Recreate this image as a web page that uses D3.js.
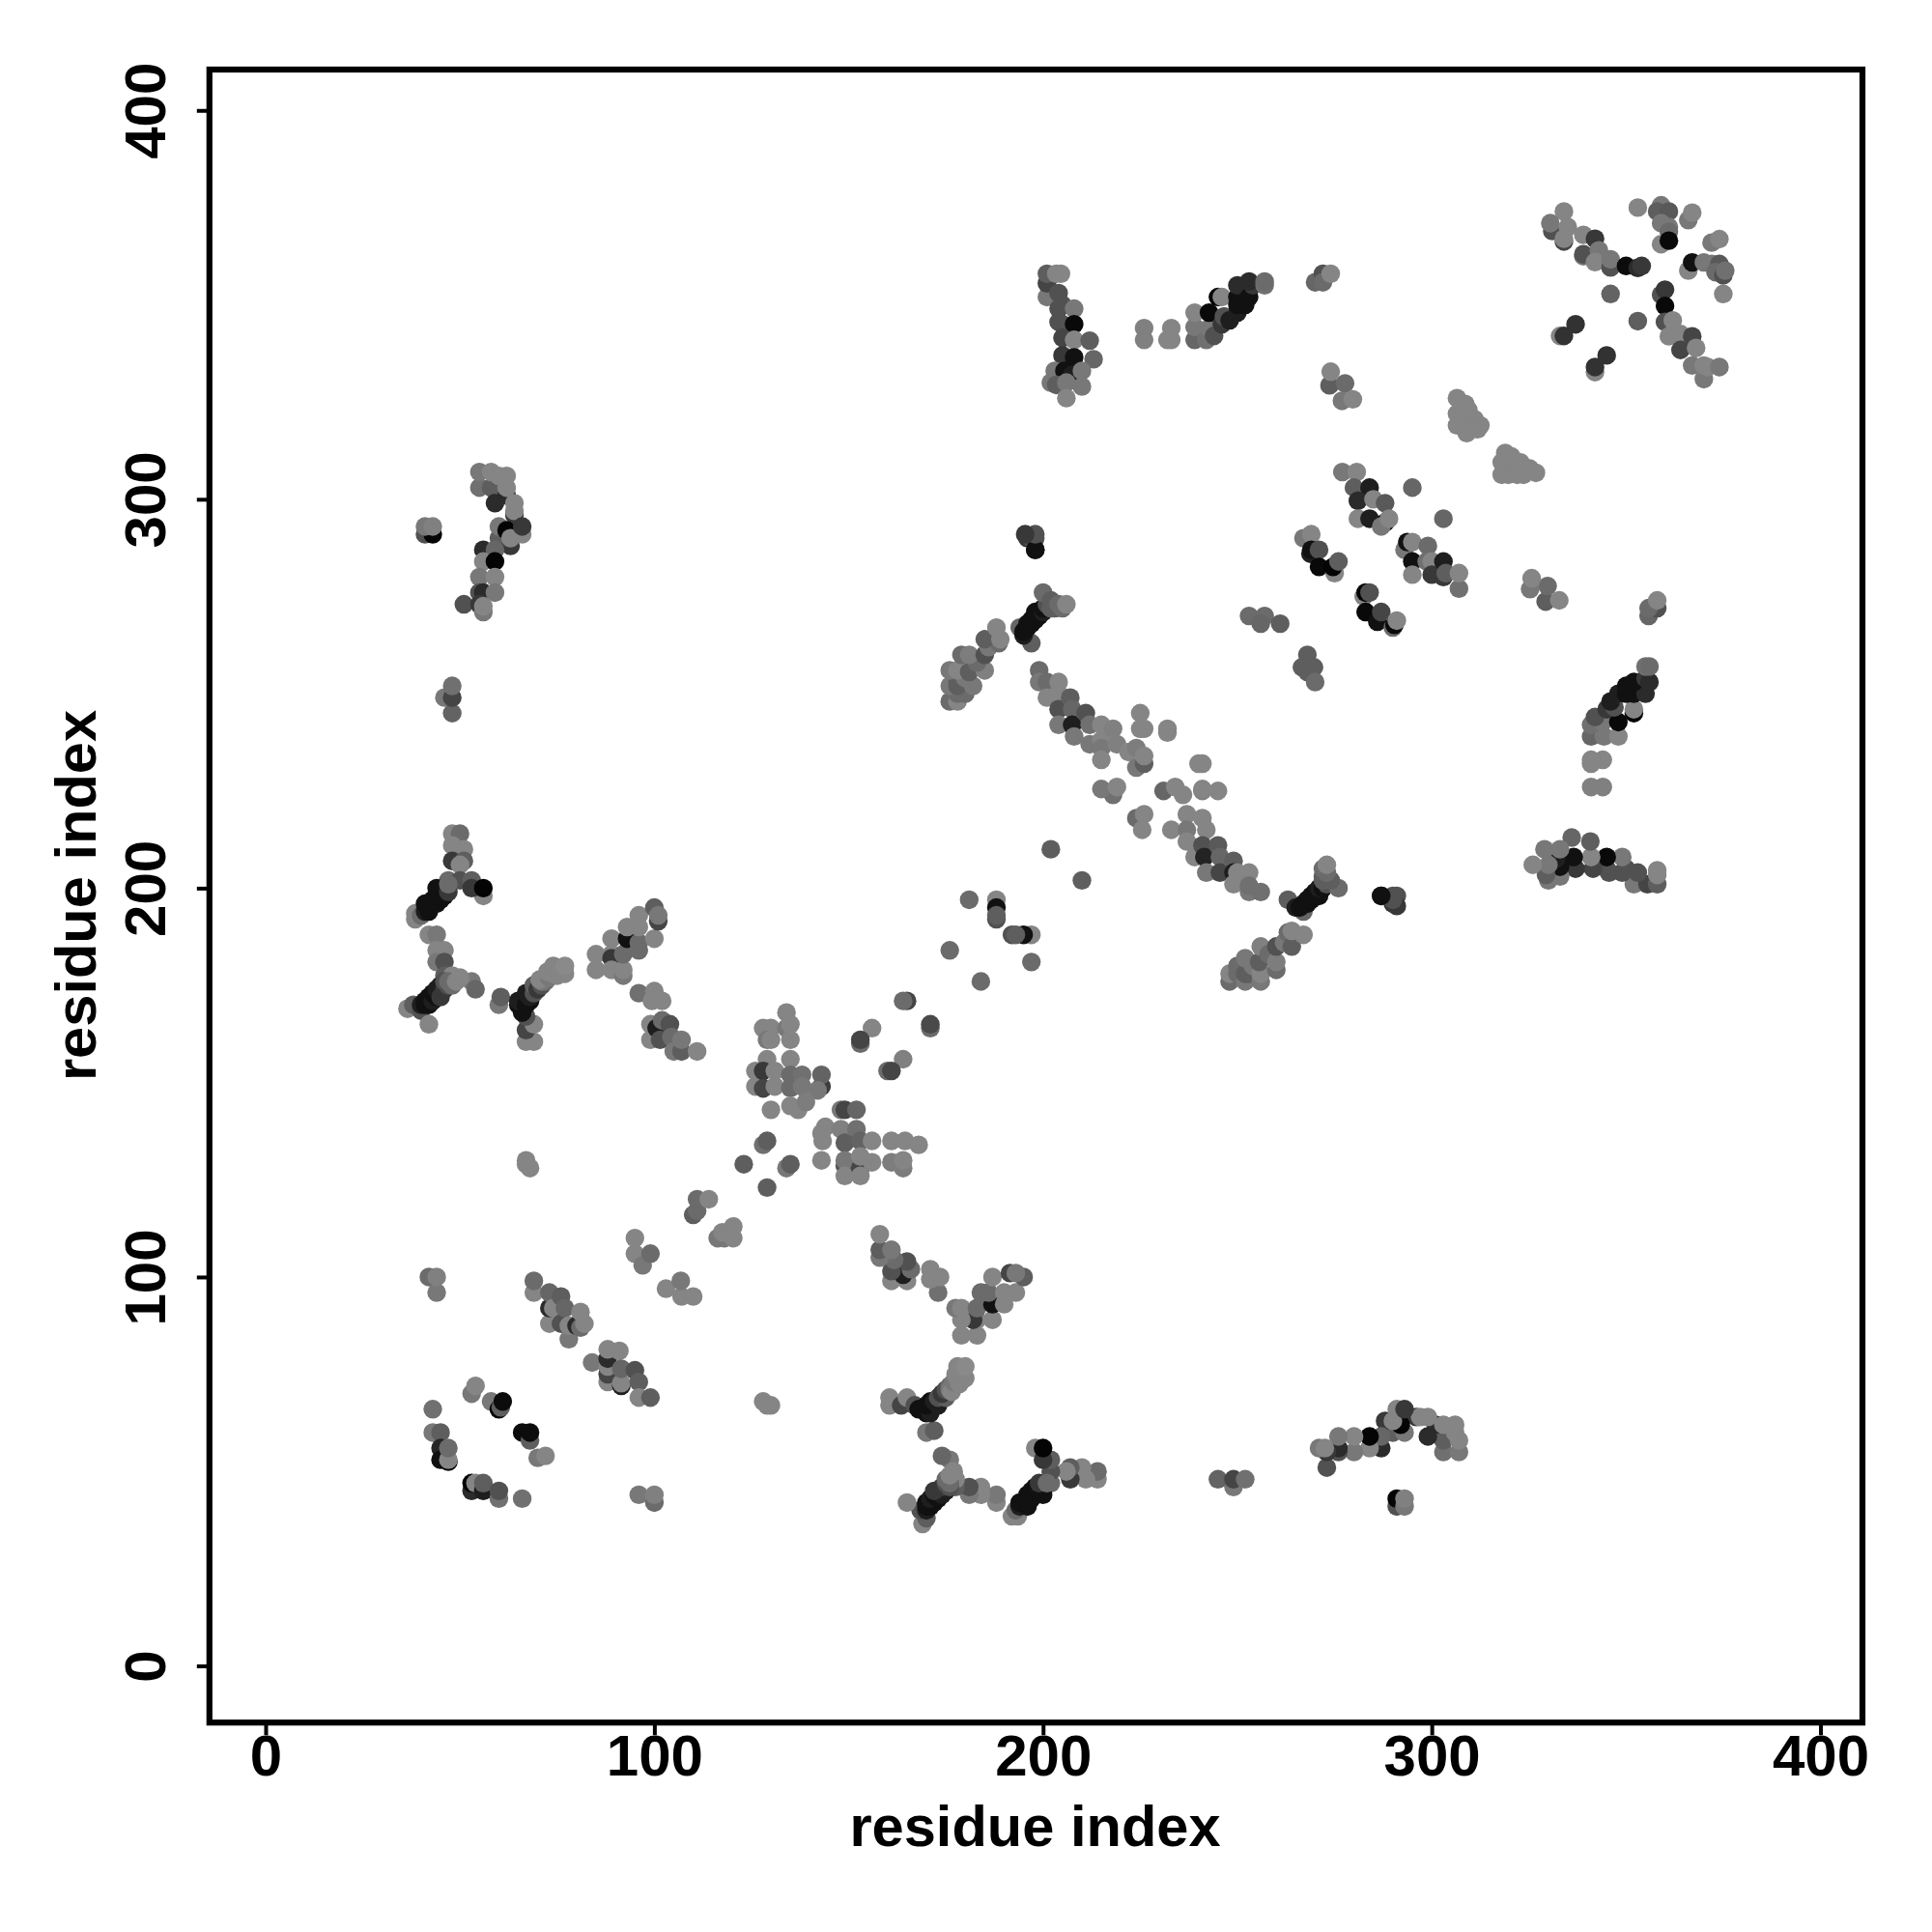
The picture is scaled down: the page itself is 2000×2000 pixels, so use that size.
<!DOCTYPE html>
<html><head><meta charset="utf-8">
<script src="https://cdn.jsdelivr.net/npm/d3@7"></script>
<style>html,body{margin:0;padding:0;background:#fff}svg{display:block}</style></head>
<body><div id="chart"></div>
<script>
const xTicks=[0,100,200,300,400];
const yTicks=[0,100,200,300,400];
const axisTitle="residue index";
// contacts read as [residue i, residue j, shade]; shade 0 = black, 0.5 = lightest gray
// Off-block contacts: a contact map holds each pair at (i,j) and at (j,i)
const pairsNear290=[[41,291,.3],[43,291,0],[41,293,.45],[43,293,.48],[196,290,.2],[198,290,.3],[197,290,.3],[198,287,.05]];
const pairs55to66=[[55,303,.42],[55,307,.45],[58,303,.35],[58,307,.5],[60,306,.5],[59,299,.15],[62,301,.15],[62,303,.5],[62,306,.5],[64,296,.2],[64,297,.5],[64,299,.5],[60,290,.35],[60,293,.45],[62,292,0],[63,288,.2],[63,290,.5],[66,291,.5],[66,293,.2],[56,287,.15],[59,287,.38],[56,284,.5],[59,284,0],[55,280,.45],[59,280,.5],[55,276,.3],[56,276,.15],[59,276,.45],[51,273,.3],[55,273,.2],[56,271,.45],[56,272.5,.5],[46,249,.45],[48,245,.37],[48,249,.25],[48,252,.42]];
const pairs40to56=[[48,214,.5],[50,214,.4],[48,211,.5],[51,210,.5],[48,207,.2],[51,207,.35],[50,206,.5],[47,202,.4],[50,202,.3],[53,202,.35],[56,198,.5],[53,200,.2],[56,200,0],[38.5,192,.5],[38.5,193.5,.5],[40,193,.4],[41,194,.1],[42,194,.05],[41,196,.05],[43,196,.05],[42,195,.05],[44,196,.05],[45,197,.05],[43,197,.05],[44,198,.05],[45,199,.05],[44,200,.05],[46,198,.05],[46,200,.05],[47,199,.2],[47,201,.4],[42,188,.5],[44,188,.45],[44,184,.5],[46,184,.5],[44,181,.45],[46,181,.3],[46,177.5,.35],[48,177.5,.5],[53,176,.45],[54,174,.38],[36.5,169,.5],[38,170,.35],[40,168.5,.3],[40,170,.1],[41,170,.05],[41,171,.05],[42,170,.05],[42,172,.05],[43,171,.1],[43,173,.05],[44,172,.05],[44,174,.1],[45,173,.1],[45,175,.1],[45,172,.2],[46,174,.2],[47,175,.3],[46,176,.3],[47,176,.4],[48,175,.4],[49,176,.5],[50,177,.5],[42,165,.5]];
const pairs60to77=[[60,170,.45],[60.5,172,.35],[67,160.5,.5],[69,160.5,.5],[67,163.5,.25],[69,165,.5],[67,167,.3],[65,170,.05],[66,170,.05],[66,168,.05],[65,171,.1],[67,170,.05],[68,171,.05],[67,173,.1],[68,172,.1],[69,173,.3],[69,175,.35],[70,174,.2],[71,175,.3],[72,176,.4],[71,176,.45],[70.5,176.5,.5],[73,177,.45],[72.5,178.5,.5],[74,178,.5],[75,177.5,.5],[75,179,.5],[76,179,.5],[74,180,.5],[77,178,.5],[77,180,.52]];
const pairs85to111=[[85,183,.5],[85,179,.5],[89,187,.5],[89,183,.5],[89,182,.2],[89,179,.5],[92,177.5,.45],[92,179,.5],[92,183,.4],[93,187,.05],[93,190,.5],[96,184,.4],[96,186,.4],[96,190,.5],[96,193,.5],[100,187,.5],[100,195,.35],[101,191.5,.25],[101,193,.45],[96,173,.42],[100,173.5,.5],[99.4,171,.5],[102,171,.5],[99,161,.5],[99,165,.5],[100.6,164,.1],[101.5,161,.3],[102,166,.4],[104,165,.3],[104.4,161.7,.4],[105,158,.45],[107,158,.35],[107,161,.45],[111,158,.5]];
const pairsSingles=[[42,100,.4],[44,96,.45],[44,100,.48],[67,130,.5],[67,129,.5],[68,128,.5],[176,184,.4],[181,197,.4],[188,192,.3],[188,197,.5],[188,195,.05],[188,193,.35]];
const pairs200to274=[[201,352,.45],[201,355.5,.25],[201,358,.35],[203.4,358,.5],[204.6,358,.5],[204,353,.3],[205,350,.3],[204,349,.3],[205,345,.3],[204,345.6,.3],[208,349,.45],[208,345,.02],[205,341.5,.25],[208,341,.5],[212,340.8,.35],[205,337,.2],[208,336.5,.05],[213,336,.38],[203,333,.45],[205.5,333,.05],[207.5,332,.1],[210,333,.45],[202,330,.45],[203.4,329.4,.35],[206,330,.45],[210,329,.45],[206,326,.5],[226,341,.48],[226,344,.48],[233,344,.5],[232,341,.5],[233,341,.5],[239,341,.38],[239,344.3,.45],[239,348,.5],[242,341,.42],[242.7,344,.45],[242.7,348,.02],[244,342,.3],[246,345,.2],[246.5,347,.3],[248,346,.1],[245,352,0],[246,352,.5],[250,348.5,.4],[250,348,.1],[250,350,.05],[250,352,.05],[252,350,.05],[250,355,.15],[253,352,.05],[254,355,.2],[253,356,.15],[257,355,.42],[257,356,.4],[270,355.8,.38],[272,358,.3],[272,355.8,.4],[274,358,.5]];
const pairs273to280=[[273.7,329.3,.35],[274,332.8,.5],[277.7,329.8,.4],[276.9,325.3,.45],[279.7,325.7,.5]];
const pairs196to206=[[194,267,.38],[197,263,.35],[195,265,.1],[195,266,.05],[196,267,.05],[196,268,.05],[197,268,.05],[197,269,.05],[198,269,.05],[198,270,.05],[199,270,.05],[199,271,.05],[198,271,.05],[200,271,.1],[200,272,.05],[201,273,.3],[200,276,.4],[202,272,.35],[202,274,.35],[203,272,.35],[204,273,.4],[205,272,.4],[206,273,.5]];
const pairs248to267=[[248,176,.4],[248,178,.5],[250,178,.4],[250,180,.4],[252,176,.45],[252,178,.35],[253,178,.35],[252,182,.45],[254,180,.45],[256,176,.45],[256,178,.5],[255.6,181,.35],[256,185,.48],[258,183,.4],[260,179,.4],[260,181,.47],[260,185,.3],[262,186,.45],[263,188.6,.4],[264,185,.35],[264,189,.5],[267,188,.5]];
const pairsNear288=[[287,198,.05],[291,198,.3],[291,195.4,.2]];
// Blocks around the diagonal and anti-diagonals, read in full on both sides
const blockSmall=[[43,66,.42],[43,60,.45],[45,60,.35],[45,56,.13],[45,53,.05],[47,52.5,0],[47,53,.5],[47,56,.4],[53,45,.15],[53,47,0],[54,47,.5],[56,45,.1],[56,47,.35],[60,43,.42],[60,45,.3],[66,43,.42],[53,70,.45],[54,72,.5],[58,68,.45],[60,66,0],[60.5,66.5,.35],[61,68,.03],[66,60,.03],[68,58,.35],[68,60,.03],[70,53.5,.45],[72,54,.5]];
const blockNear85=[[69,96,.5],[69,99,.4],[73,88,.5],[73,92,.15],[73,96,.38],[74,92,.5],[76,88,.3],[76,95,.35],[77,92,.38],[78,84,.45],[78,87.5,.5],[80,87.5,.15],[81,87,.4],[81,91,.5],[82,88,.5],[84,78,.45],[88,73,.5],[88,75,.25],[88,77,.5],[88,79,.15],[88,81.4,.5],[91,81,.5],[91.5,72,.1],[91.5,72.7,.5],[91.5,76.4,.38],[95,76,.3],[96,73,.35],[96,69,.5],[99,69,.35]];
const blockNear105=[[95,110,.5],[95,106,.5],[97,103,.45],[99,106,.4],[103,97,.5],[107,95,.5],[106.8,99,.45],[110,95,.5],[110,116,.35],[111,117,.4],[111,120,.4],[114,120,.5],[116.3,110,.45],[118,110,.45],[117.5,111.5,.5],[120.3,110,.5],[120.3,113,.5]];
const blockNear145=[[165,171,.25],[164,171,.4],[171,164,.4],[171,165,.27],[156,164,.5],[153,160,.4],[153,161,.25],[164,156,.48],[160,153,.4],[161,153,.25],[134,168,.5],[128,164,.5],[130,164,.5],[134,164,.45],[135,165,.5],[135,161,.5],[129,161,.45],[130,161,.5],[126,153,.5],[126,149,.5],[129,156,.5],[135,156,.5],[128,153,.2],[128,148.5,.25],[131,153,.5],[131,149,.5],[135,152,.4],[135,148.6,.4],[138,152,.42],[138,149,.45],[143,149,.22],[143,152,.37],[142,148,.45],[130,143,.5],[135,144,.5],[137,143,.5],[139,145,.47],[148,143,.45],[149,143,.25],[152,143,.38],[144,138.6,.5],[143,137,.5],[143.3,135,.5],[148,138,.48],[152,138,.42],[149,134.5,.35],[153,135,.37],[156,135,.5],[161,135,.5],[164.5,135,.5],[168,134,.5],[143,130,.5],[149,128.6,.3],[149,130,.45],[149,126,.5],[153,128,.25],[153,131,.5],[153,126,.5],[156,129.5,.5],[161,129.5,.47],[164,128,.47],[164,130,.5],[128,134,.42],[129,135,.35],[123,129,.35],[134,128,.45],[135,129,.35],[129,123,.35]];
const blockAnti228=[[199,256,.4],[199,253,.45],[201,253,.4],[204,253,.5],[201,249,.5],[204,250,.5],[204,246,.3],[204,242,.45],[207,249,.35],[207.5,246,.38],[207.5,242,.1],[208,239,.45],[211,245,.3],[212,237,.45],[212,242,.42],[215,242,.5],[215,238,.5],[215,236,.45],[218,241,.48],[219,237,.48],[215,233,.5],[222,235,.5],[224,236,.47],[224,231,.45],[226,232,.35],[226,234,.5],[225,245,.5],[225,241,.5],[226,241,.5],[232,240,.5],[232,241,.5],[218,224,.42],[215,225.5,.45],[219,226,.5],[240,232,.5],[241,232,.5],[241,225,.47],[241,225.5,.5],[245,225,.5],[231,225,.38],[234,226,.5],[236,224,.5],[224,218,.4],[226,219,.5],[225.5,215,.5],[233,215,.5],[237,219,.5],[241,218,.5],[237,215,.45],[242,215,.5],[237,212,.5],[239,208,.5],[241,211,.3],[241.5,208,.12],[242,204,.45],[245,211,.33],[245.5,208,.38],[249,207,.35],[245.5,204,.25],[249,204,.1],[250,204,.5],[253,204,.5],[249,201,.5],[253,199,.45],[253,200.6,.42],[256,199,.42],[202,210,.35],[210,202,.35]];
const blockNear288=[[277,307,.45],[280.7,307,.5],[280,303,.35],[284,303,.1],[281,299.6,.15],[285,300,.5],[288,299,.33],[281,295,.5],[284,295,.1],[288,294,.05],[287,293,.45],[289,295,.5],[295,303,.38],[303,295,.38],[267,290,.45],[269,291,.5],[268.8,286,.1],[269,287,.05],[271,287,.3],[271,282.6,.02],[275,281,.5],[274.6,282.6,0],[276,284,.35],[282.5,275,.5],[283,276,0],[284,276,.3],[283,271,.02],[286,268.5,.05],[287,271,.25],[290,267,.4],[290.4,267.7,.02],[291,268.8,.5],[293,287,.45],[293.7,289,.05],[295,289,.5],[295,284,.05],[295,280.6,.5],[299,288,.4],[298.7,284,.42],[300,284,.5],[300,280.6,.2],[303,284,.1],[303,280,.2],[303.6,281,.35],[307,277,.42],[307,281,.5]];
const blockNear262=[[253,270,.4],[257,270,.4],[256,268,.38],[261,268,.35],[268,260,.35],[266.6,256.8,.35],[269.7,256.8,.35],[268,255.6,.35],[270,253,.4]];
const blockNear315=[[306.5,326,.5],[308.6,324.5,.5],[306.5,322,.5],[306.5,319,.5],[309.4,323,.5],[310,320.6,.5],[311,320.6,.5],[312.5,319,.5],[309,317,.5],[311.8,318,.5],[318.9,311.9,.5],[320.5,311,.5],[318,309.5,.5],[318,306.3,.5],[319.7,306.3,.5],[321.2,307,.5],[322,306.3,.5],[322.8,309.5,.5],[323.6,306.3,.5],[325.2,307.9,.5],[326.8,306.8,.5]];
const blockNear355=[[334,374,.5],[331,369,.3],[330.5,371,.45],[335,370,.5],[334,366.3,.25],[334,367,.5],[339,368,.5],[342,367,.2],[339,362.5,.45],[339,363,.3],[343,364,.45],[342,361,.5],[346,359.6,.3],[346,361.7,.45],[350,360,.03],[353,359.5,.15],[354,360,.2],[346,352.8,.37],[353,345.8,.35],[333,342,.5],[334,342,.18],[337,345,.18],[342,332.7,.5],[342,334,.18],[345,337,.18],[353,375,.5],[359,375.6,.45],[358,374,.35],[361,374,.33],[359,371,.45],[361,370,.45],[361,368.8,.4],[359,365.6,.5],[361,366.5,.02],[366,371.8,.45],[367,373.7,.5],[372,366,.45],[374,366.9,.5],[366,358.8,.5],[367,360.9,.05],[370,360.9,.45],[372,360.5,.45],[374,360.5,.33],[373,358.4,.4],[375,357.6,.3],[375.5,358.8,.42],[375,352.8,.5],[359,352.6,.3],[360,353.9,.2],[360,349.7,.02],[360,345.6,.3],[362,346,.5],[361,341.9,.5],[364,342.5,.5],[367,341.9,.25],[364,338.4,.25],[368,338.9,.5],[367,334.4,.45],[370,330.9,.45],[370,334.4,.5],[371,334,.5],[374,334,.45]];

const mirrored=[].concat(pairsNear290,pairs55to66,pairs40to56,pairs60to77,pairs85to111,pairsSingles,pairs200to274,pairs273to280,pairs196to206,pairs248to267,pairsNear288);
const blocks=[].concat(blockSmall,blockNear85,blockNear105,blockNear145,blockAnti228,blockNear288,blockNear262,blockNear315,blockNear355);
const points=mirrored.concat(mirrored.map(d=>[d[1],d[0],d[2]]),blocks);

const svg=d3.select("#chart").append("svg").attr("width",2000).attr("height",2000);
const x=d3.scaleLinear().domain([-14.46,410.8]).range([216.8,1928]);
const y=d3.scaleLinear().domain([-14.58,410.5]).range([1783.2,72]);
const shade=d3.scaleLinear().domain([0,.5]).range(["#040404","#858585"]);
const font="'Liberation Sans',Arial,sans-serif";

svg.append("g").selectAll("circle").data(points).join("circle")
 .attr("cx",d=>x(d[0])).attr("cy",d=>y(d[1])).attr("r",9.7).attr("fill",d=>shade(d[2]));

svg.append("rect").attr("x",x.range()[0]).attr("y",y.range()[1])
 .attr("width",x.range()[1]-x.range()[0]).attr("height",y.range()[0]-y.range()[1])
 .attr("fill","none").attr("stroke","#000").attr("stroke-width",6.2);

const gx=svg.append("g").attr("transform",`translate(0,${y.range()[0]})`)
 .call(d3.axisBottom(x).tickValues(xTicks).tickSize(13).tickPadding(8).tickFormat(d3.format("d")));
const gy=svg.append("g").attr("transform",`translate(${x.range()[0]},0)`)
 .call(d3.axisLeft(y).tickValues(yTicks).tickSize(13).tickPadding(8).tickFormat(d3.format("d")));
[gx,gy].forEach(g=>{g.select(".domain").remove();
 g.selectAll(".tick line").attr("stroke","#000").attr("stroke-width",4);
 g.selectAll("text").attr("fill","#000").attr("font-family",font).attr("font-weight","700").attr("font-size",60);});
gx.selectAll("text").attr("dy",null).attr("y",55).attr("dominant-baseline","auto").attr("text-anchor","middle");
gy.selectAll("text").attr("dy",null).attr("x",null).attr("y",null).attr("text-anchor","middle")
 .attr("transform",`translate(-46,0) rotate(-90)`);

svg.append("text").text(axisTitle).attr("x",1071.5).attr("y",1910.5).attr("text-anchor","middle")
 .attr("font-family",font).attr("font-weight","700").attr("font-size",59.6).attr("fill","#000");
svg.append("text").text(axisTitle).attr("transform","translate(99,927) rotate(-90)").attr("text-anchor","middle")
 .attr("font-family",font).attr("font-weight","700").attr("font-size",59.6).attr("fill","#000");
</script></body></html>
